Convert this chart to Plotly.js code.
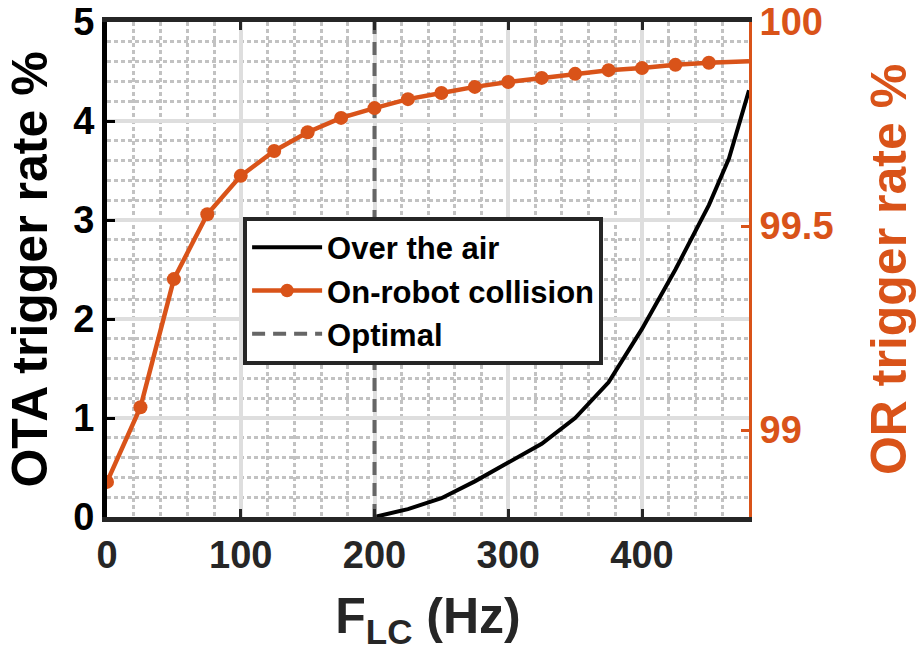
<!DOCTYPE html>
<html>
<head>
<meta charset="utf-8">
<script src="https://cdn.plot.ly/plotly-3.0.1.min.js"></script>
<style>
  html, body { margin: 0; padding: 0; background: #fff; }
  #chart { width: 919px; height: 663px; }
</style>
</head>
<body>
<div id="chart"></div>
<script>
// ---- Data ----
const orX = [0, 25, 50, 75, 100, 125, 150, 175, 200, 225, 250, 275, 300, 325, 350, 375, 400, 425, 450, 480];
const orY = [98.873, 99.056, 99.370, 99.529, 99.623, 99.684, 99.730, 99.765, 99.789, 99.811,
             99.826, 99.841, 99.853, 99.863, 99.873, 99.882, 99.887, 99.895, 99.900, 99.904];
const orMarkerSize = [14, 14, 14, 14, 14, 14, 14, 14, 14, 14, 14, 14, 14, 14, 14, 14, 14, 14, 14, 0];

const otaX = [200, 225, 250, 275, 300, 325, 350, 375, 400, 425, 450, 465, 480];
const otaY = [0, 0.08, 0.19, 0.36, 0.55, 0.74, 1.0, 1.36, 1.9, 2.5, 3.15, 3.62, 4.31];

const optimalX = [200, 200];
const optimalY = [0, 5];

const orTickVals = [99, 99.5, 100];
const orTickText = ['99', '99.5', '100'];

const ORANGE = '#D95319';
const FONT = 'Liberation Sans, Arial, Helvetica, sans-serif';

const traces = [
  {
    x: otaX, y: otaY, name: 'Over the air', type: 'scatter', mode: 'lines',
    line: {color: '#000000', width: 4}, yaxis: 'y'
  },
  {
    x: orX, y: orY, name: 'On-robot collision', type: 'scatter', mode: 'lines+markers',
    line: {color: ORANGE, width: 4.5},
    marker: {color: ORANGE, size: orMarkerSize, opacity: 1, line: {width: 0}},
    yaxis: 'y2'
  },
  {
    x: optimalX, y: optimalY, name: 'Optimal', type: 'scatter', mode: 'lines',
    line: {color: '#666666', width: 4, dash: '13px,8px'}, yaxis: 'y'
  }
];

const layout = {
  width: 919, height: 663,
  margin: {l: 107, r: 170, t: 22, b: 146},
  paper_bgcolor: '#ffffff', plot_bgcolor: '#ffffff',
  font: {family: FONT, size: 38, color: '#262626', weight: 'bold'},
  showlegend: true,
  legend: {
    x: 0.212, y: 0.607, xanchor: 'left', yanchor: 'top',
    bgcolor: '#ffffff', bordercolor: '#262626', borderwidth: 4,
    font: {family: FONT, size: 31, color: '#000000', weight: 'bold'},
    itemwidth: 70, tracegroupgap: 0
  },
  xaxis: {
    range: [0, 480], tickvals: [0, 100, 200, 300, 400],
    ticks: 'inside', ticklen: 8, tickwidth: 3, tickcolor: '#262626',
    showline: true, linecolor: '#262626', linewidth: 5, mirror: 'ticks',
    showgrid: true, gridcolor: '#dedede', gridwidth: 4,
    minor: {dtick: 20, showgrid: true, gridcolor: '#c2c2c2', gridwidth: 3, griddash: '4px,3px'},
    zeroline: false,
    tickfont: {family: FONT, size: 38, color: '#262626', weight: 'bold'},
    title: {text: 'F<sub>LC</sub> (Hz)', standoff: 25,
            font: {family: FONT, size: 50, color: '#262626', weight: 'bold'}}
  },
  yaxis: {
    range: [0, 5], tickvals: [0, 1, 2, 3, 4, 5],
    ticks: 'inside', ticklen: 8, tickwidth: 3, tickcolor: '#000000',
    showline: true, linecolor: '#000000', linewidth: 5,
    showgrid: true, gridcolor: '#dedede', gridwidth: 4,
    minor: {dtick: 0.2, showgrid: true, gridcolor: '#c2c2c2', gridwidth: 3, griddash: '4px,3px'},
    zeroline: false,
    tickfont: {family: FONT, size: 38, color: '#000000', weight: 'bold'},
    title: {text: 'OTA trigger rate %', standoff: 11,
            font: {family: FONT, size: 50, color: '#000000', weight: 'bold'}}
  },
  yaxis2: {
    overlaying: 'y', side: 'right',
    range: [98.787, 100], tickvals: orTickVals, ticktext: orTickText,
    ticks: 'inside', ticklen: 8, tickwidth: 3, tickcolor: ORANGE,
    showline: true, linecolor: ORANGE, linewidth: 3,
    showgrid: false, zeroline: false,
    tickfont: {family: FONT, size: 38, color: ORANGE, weight: 'bold'},
    title: {text: 'OR trigger rate %', standoff: 39,
            font: {family: FONT, size: 50, color: ORANGE, weight: 'bold'}}
  }
};

Plotly.newPlot('chart', traces, layout, {displayModeBar: false, staticPlot: true});
</script>
</body>
</html>
